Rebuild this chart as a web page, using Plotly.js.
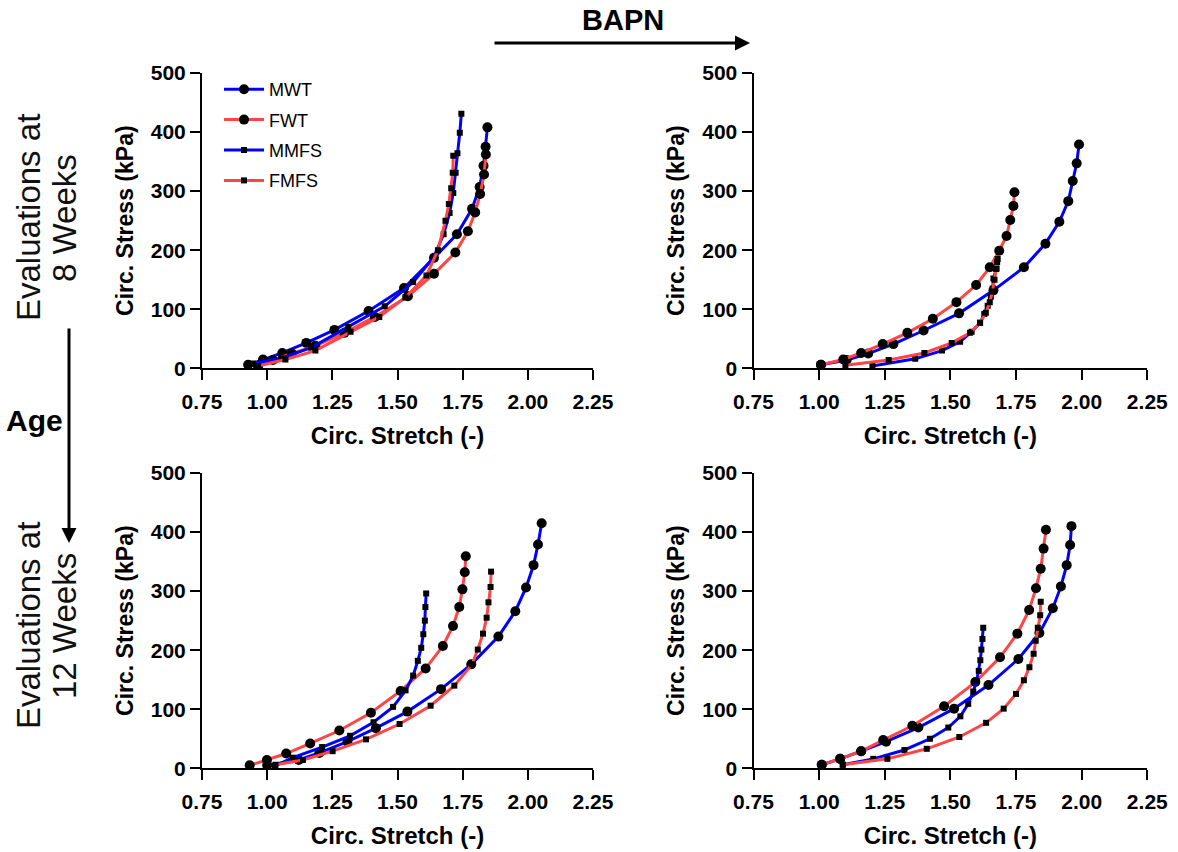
<!DOCTYPE html>
<html><head><meta charset="utf-8">
<script src="https://cdn.plot.ly/plotly-3.0.1.min.js"></script>
<style>body{margin:0;background:#fff}#chart{width:1178px;height:852px}</style>
</head><body><div id="chart"></div>
<script>
// Series names
const seriesNames = ['MWT', 'FWT', 'MMFS', 'FMFS'];
const xTickVals = [0.75, 1.00, 1.25, 1.50, 1.75, 2.00, 2.25];
const xTickText = ['0.75', '1.00', '1.25', '1.50', '1.75', '2.00', '2.25'];
const yTickVals = [0, 100, 200, 300, 400, 500];

// Top-left: 8 weeks, untreated
const tlMWTx = [0.927,0.984,1.058,1.150,1.258,1.389,1.525,1.640,1.728,1.786,1.815,1.830,1.838,1.845];
const tlMWTy = [6,15,26,43,65,97,136,187,227,270,307,343,375,408];
const tlFWTx = [0.965,1.022,1.095,1.185,1.296,1.413,1.540,1.640,1.722,1.770,1.798,1.817,1.832,1.839];
const tlFWTy = [3,14,25,38,60,87,122,160,196,232,264,295,328,362];
const tlMMFSx = [0.945,1.054,1.169,1.311,1.451,1.560,1.639,1.677,1.700,1.714,1.723,1.730,1.739,1.745];
const tlMMFSy = [8,17,35,70,105,146,188,227,263,297,331,364,399,431];
const tlFMFSx = [0.965,1.070,1.185,1.320,1.430,1.530,1.611,1.655,1.684,1.697,1.706,1.712,1.714];
const tlFMFSy = [4,15,30,62,87,120,157,200,250,278,305,331,360];

// Top-right: 8 weeks, BAPN
const trMWTx = [1.007,1.105,1.187,1.283,1.398,1.533,1.664,1.780,1.862,1.915,1.949,1.966,1.981,1.990];
const trMWTy = [6,14,25,41,64,93,132,171,211,248,283,317,347,379];
const trFWTx = [1.007,1.092,1.160,1.242,1.336,1.433,1.523,1.598,1.650,1.686,1.714,1.728,1.740,1.744];
const trFWTy = [6,15,26,41,60,84,112,141,171,199,224,251,275,298];
const trMMFSx = [1.203,1.366,1.468,1.537,1.581,1.613,1.629,1.642,1.654,1.661,1.664,1.676,1.680];
const trMMFSy = [4,16,30,45,62,77,92,106,121,135,152,169,185];
const trFMFSx = [1.100,1.265,1.401,1.505,1.575,1.613,1.635,1.650,1.660,1.668,1.674,1.678];
const trFMFSy = [5,14,26,43,60,77,94,112,130,150,168,180];

// Bottom-left: 12 weeks, untreated
const blMWTx = [1.000,1.121,1.200,1.308,1.417,1.538,1.667,1.783,1.887,1.952,1.993,2.022,2.039,2.053];
const blMWTy = [5,14,26,45,68,96,134,176,223,266,306,344,379,415];
const blFWTx = [0.933,0.999,1.073,1.165,1.277,1.398,1.512,1.608,1.674,1.713,1.737,1.749,1.758,1.762];
const blFWTy = [5,14,25,42,64,94,131,169,207,241,273,303,332,359];
const blMMFSx = [1.030,1.098,1.211,1.318,1.408,1.483,1.531,1.560,1.578,1.591,1.599,1.605,1.607,1.610];
const blMMFSy = [4,18,36,55,78,104,132,157,182,204,227,250,273,296];
const blFMFSx = [1.032,1.137,1.251,1.379,1.508,1.627,1.718,1.786,1.808,1.828,1.842,1.849,1.857,1.859];
const blFMFSy = [6,14,29,49,75,106,140,176,201,228,255,281,307,333];

// Bottom-right: 12 weeks, BAPN
const brMWTx = [1.010,1.080,1.160,1.255,1.378,1.514,1.645,1.759,1.839,1.890,1.921,1.943,1.956,1.961];
const brMWTy = [6,16,29,45,69,101,141,185,229,271,308,344,378,410];
const brFWTx = [1.010,1.080,1.160,1.244,1.355,1.476,1.595,1.689,1.755,1.800,1.826,1.844,1.855,1.864];
const brFWTy = [6,16,29,48,72,105,146,188,228,268,305,338,372,404];
const brMMFSx = [1.090,1.206,1.325,1.422,1.492,1.538,1.568,1.587,1.600,1.608,1.614,1.618,1.622,1.625];
const brMMFSy = [6,16,31,50,69,88,109,130,148,165,183,201,219,238];
const brFMFSx = [1.090,1.260,1.410,1.534,1.636,1.703,1.750,1.780,1.801,1.817,1.825,1.833,1.842,1.844];
const brFMFSy = [6,16,33,53,77,101,126,149,171,194,216,238,259,282];

const BLUE = '#0000FF', RED = '#FF4545';
const FONT = 'Liberation Sans, Arial, sans-serif';
const styles = {
  MWT:  {color: BLUE, symbol: 'circle', size: 10},
  FWT:  {color: RED,  symbol: 'circle', size: 10},
  MMFS: {color: BLUE, symbol: 'square', size: 6},
  FMFS: {color: RED,  symbol: 'square', size: 6}
};

const panels = [
  {xa: 'x',  ya: 'y',  data: {MWT:[tlMWTx,tlMWTy], FWT:[tlFWTx,tlFWTy], MMFS:[tlMMFSx,tlMMFSy], FMFS:[tlFMFSx,tlFMFSy]}, legend: true},
  {xa: 'x2', ya: 'y2', data: {MWT:[trMWTx,trMWTy], FWT:[trFWTx,trFWTy], MMFS:[trMMFSx,trMMFSy], FMFS:[trFMFSx,trFMFSy]}, legend: false},
  {xa: 'x3', ya: 'y3', data: {MWT:[blMWTx,blMWTy], FWT:[blFWTx,blFWTy], MMFS:[blMMFSx,blMMFSy], FMFS:[blFMFSx,blFMFSy]}, legend: false},
  {xa: 'x4', ya: 'y4', data: {MWT:[brMWTx,brMWTy], FWT:[brFWTx,brFWTy], MMFS:[brMMFSx,brMMFSy], FMFS:[brFMFSx,brFMFSy]}, legend: false}
];

const traces = [];
panels.forEach(p => {
  seriesNames.forEach(name => {
    const s = styles[name];
    traces.push({
      type: 'scatter', mode: 'lines+markers', name: name,
      x: p.data[name][0], y: p.data[name][1],
      xaxis: p.xa, yaxis: p.ya,
      line: {color: s.color, width: 3},
      marker: {color: '#000', symbol: s.symbol, size: s.size, line: {width: 0}},
      showlegend: p.legend, legendgroup: name,
      hoverinfo: 'x+y'
    });
  });
});

const W = 1178, H = 852;
const xDomL = [202/W, 593/W], xDomR = [753.5/W, 1147.3/W];
const yDomT = [1-368.3/H, 1-73/H], yDomB = [1-768.3/H, 1-473/H];

function xAxis(domain, anchor) {
  return {
    domain: domain, anchor: anchor, range: [0.75, 2.25],
    tickvals: xTickVals, ticktext: xTickText,
    showline: true, linecolor: '#000', linewidth: 2,
    ticks: 'outside', ticklen: 10, tickwidth: 2, tickcolor: '#000',
    showgrid: false, zeroline: false,
    tickfont: {family: FONT, size: 21, color: '#000', weight: 'bold'},
    ticklabelstandoff: 3,
    title: {text: 'Circ. Stretch (-)', font: {family: FONT, size: 24, color: '#000', weight: 'bold'}, standoff: 16}
  };
}
function yAxis(domain, anchor) {
  return {
    domain: domain, anchor: anchor, range: [0, 500],
    tickvals: yTickVals,
    showline: true, linecolor: '#000', linewidth: 2,
    ticks: 'outside', ticklen: 10, tickwidth: 2, tickcolor: '#000',
    showgrid: false, zeroline: false,
    tickfont: {family: FONT, size: 21, color: '#000', weight: 'bold'},
    title: {text: 'Circ. Stress (kPa)', font: {family: FONT, size: 23, color: '#000', weight: 'bold'}, standoff: 11}
  };
}

const sideFont = {family: FONT, size: 33, color: '#111'};
const layout = {
  width: W, height: H,
  margin: {l: 0, r: 0, t: 0, b: 0},
  paper_bgcolor: '#fff', plot_bgcolor: 'rgba(0,0,0,0)',
  xaxis: xAxis(xDomL, 'y'),  yaxis: yAxis(yDomT, 'x'),
  xaxis2: xAxis(xDomR, 'y2'), yaxis2: yAxis(yDomT, 'x2'),
  xaxis3: xAxis(xDomL, 'y3'), yaxis3: yAxis(yDomB, 'x3'),
  xaxis4: xAxis(xDomR, 'y4'), yaxis4: yAxis(yDomB, 'x4'),
  showlegend: true,
  legend: {
    x: 219/W, y: 1-71/H, xanchor: 'left', yanchor: 'top',
    font: {family: FONT, size: 18, color: '#000'},
    bgcolor: 'rgba(0,0,0,0)', traceorder: 'grouped', tracegroupgap: 4,
    itemwidth: 40
  },
  annotations: [
    {xref: 'paper', yref: 'paper', x: 623/W, y: 1-20/H, xanchor: 'center', yanchor: 'middle',
     text: '<b>BAPN</b>', showarrow: false, font: {family: FONT, size: 29, color: '#000'}},
    {xref: 'paper', yref: 'paper', x: 750/W, y: 1-43/H, ax: -257, ay: 0, text: '', showarrow: true,
     arrowhead: 2, arrowsize: 1, arrowwidth: 3, arrowcolor: '#000', standoff: 0},
    {xref: 'paper', yref: 'paper', x: 34/W, y: 1-420/H, xanchor: 'center', yanchor: 'middle',
     text: '<b>Age</b>', showarrow: false, font: {family: FONT, size: 30, color: '#000'}},
    {xref: 'paper', yref: 'paper', x: 69/W, y: 1-543/H, ax: 0, ay: -216, text: '', showarrow: true,
     arrowhead: 2, arrowsize: 1, arrowwidth: 3, arrowcolor: '#000', standoff: 0},
    {xref: 'paper', yref: 'paper', x: 28/W, y: 1-218/H, xanchor: 'center', yanchor: 'middle',
     text: 'Evaluations at', showarrow: false, textangle: -90, font: sideFont},
    {xref: 'paper', yref: 'paper', x: 64/W, y: 1-218/H, xanchor: 'center', yanchor: 'middle',
     text: '8 Weeks', showarrow: false, textangle: -90, font: sideFont},
    {xref: 'paper', yref: 'paper', x: 28/W, y: 1-626/H, xanchor: 'center', yanchor: 'middle',
     text: 'Evaluations at', showarrow: false, textangle: -90, font: sideFont},
    {xref: 'paper', yref: 'paper', x: 64/W, y: 1-626/H, xanchor: 'center', yanchor: 'middle',
     text: '12 Weeks', showarrow: false, textangle: -90, font: sideFont}
  ]
};

Plotly.newPlot('chart', traces, layout, {displayModeBar: false, staticPlot: true});
</script>
</body></html>
